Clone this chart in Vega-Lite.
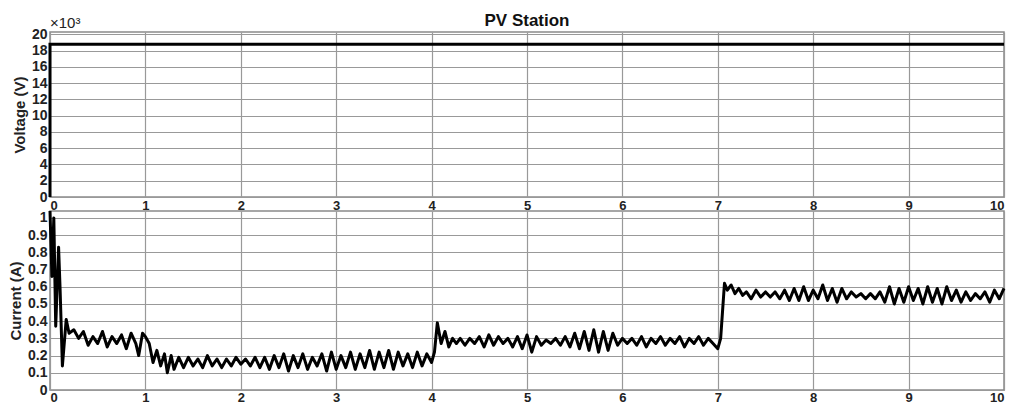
{
  "$schema": "https://vega.github.io/schema/vega-lite/v6.json",
  "background": "white",
  "padding": {"left": 7, "top": 11, "right": 4, "bottom": 0},
  "spacing": 14,
  "bounds": "flush",
  "config": {
    "font": "Liberation Sans",
    "view": {"stroke": "#8a8a8a", "strokeWidth": 1.5},
    "axis": {
      "labelFont": "Liberation Sans", "labelFontWeight": "bold", "labelFontSize": 14, "labelColor": "#222",
      "titleFont": "Liberation Sans", "titleFontSize": 15, "titleFontWeight": "bold", "titleColor": "#222",
      "gridColor": "#999", "gridOpacity": 1, "gridWidth": 1.2, "labelOverlap": false, "labelBound": false,
      "domain": false, "ticks": false, "labelPadding": 3, "titlePadding": 4
    }
  },
  "vconcat": [
    {
      "width": 954, "height": 165,
      "title": {"text": "PV Station", "fontSize": 17, "font": "Liberation Sans", "fontWeight": "bold", "color": "#111", "offset": -14, "anchor": "middle"},
      "layer": [
        {
          "data": {"values": [{"k": 1, "t": 0, "v": 0}, {"k": 2, "t": 0, "v": 18.8}, {"k": 3, "t": 10, "v": 18.8}]},
          "mark": {"type": "line", "color": "black", "strokeWidth": 3},
          "encoding": {
            "x": {"field": "t", "type": "quantitative", "scale": {"domain": [0, 10], "nice": false},
                  "axis": {"values": [0,1,2,3,4,5,6,7,8,9,10], "title": null, "format": "d", "labelPadding": 2, "labelFontSize": 13}},
            "y": {"field": "v", "type": "quantitative", "scale": {"domain": [0, 20.3], "nice": false},
                  "axis": {"values": [0,2,4,6,8,10,12,14,16,18,20], "title": "Voltage (V)", "format": "d"}},
            "order": {"field": "k"}
          }
        },
        {
          "data": {"values": [{}]},
          "mark": {"type": "text", "text": "×10³", "align": "left", "baseline": "bottom", "fontSize": 15, "font": "Liberation Sans", "color": "#222", "dy": -1},
          "encoding": {
            "x": {"datum": 0, "type": "quantitative",
                  "axis": {"values": [0,1,2,3,4,5,6,7,8,9,10], "title": null, "format": "d", "labelPadding": 2, "labelFontSize": 13}},
            "y": {"datum": 20.3, "type": "quantitative",
                  "axis": {"values": [0,2,4,6,8,10,12,14,16,18,20], "title": "Voltage (V)", "format": "d"}}
          }
        }
      ]
    },
    {
      "width": 954, "height": 179,
      "data": {"values": [
        {"t":0.0,"i":1.04},{"t":0.02,"i":0.66},{"t":0.04,"i":1.0},{"t":0.06,"i":0.37},{"t":0.09,"i":0.83},{"t":0.105,"i":0.6},{"t":0.13,"i":0.14},{"t":0.17,"i":0.41},
        {"t":0.2,"i":0.33},{"t":0.25,"i":0.35},{"t":0.3,"i":0.30},{"t":0.35,"i":0.34},{"t":0.4,"i":0.26},{"t":0.45,"i":0.31},{"t":0.5,"i":0.27},{"t":0.55,"i":0.34},{"t":0.6,"i":0.25},{"t":0.65,"i":0.31},{"t":0.7,"i":0.27},{"t":0.75,"i":0.32},{"t":0.8,"i":0.24},{"t":0.85,"i":0.33},{"t":0.9,"i":0.27},{"t":0.93,"i":0.20},{"t":0.97,"i":0.33},
        {"t":1.0,"i":0.31},{"t":1.04,"i":0.27},{"t":1.08,"i":0.16},{"t":1.12,"i":0.23},{"t":1.16,"i":0.14},{"t":1.2,"i":0.21},{"t":1.23,"i":0.10},{"t":1.27,"i":0.20},{"t":1.3,"i":0.12},{"t":1.35,"i":0.19},{"t":1.4,"i":0.13},{"t":1.45,"i":0.19},{"t":1.5,"i":0.14},{"t":1.55,"i":0.18},{"t":1.6,"i":0.13},{"t":1.65,"i":0.20},{"t":1.7,"i":0.14},{"t":1.75,"i":0.18},{"t":1.8,"i":0.13},{"t":1.85,"i":0.18},{"t":1.9,"i":0.14},{"t":1.95,"i":0.19},
        {"t":2.0,"i":0.15},{"t":2.05,"i":0.18},{"t":2.1,"i":0.14},{"t":2.15,"i":0.19},{"t":2.2,"i":0.13},{"t":2.25,"i":0.19},{"t":2.3,"i":0.12},{"t":2.35,"i":0.20},{"t":2.4,"i":0.13},{"t":2.45,"i":0.21},{"t":2.5,"i":0.11},{"t":2.55,"i":0.20},{"t":2.6,"i":0.13},{"t":2.65,"i":0.21},{"t":2.7,"i":0.12},{"t":2.75,"i":0.19},{"t":2.8,"i":0.14},{"t":2.85,"i":0.21},{"t":2.9,"i":0.11},{"t":2.95,"i":0.22},
        {"t":3.0,"i":0.12},{"t":3.05,"i":0.20},{"t":3.1,"i":0.13},{"t":3.15,"i":0.22},{"t":3.2,"i":0.12},{"t":3.25,"i":0.21},{"t":3.3,"i":0.13},{"t":3.35,"i":0.23},{"t":3.4,"i":0.12},{"t":3.45,"i":0.22},{"t":3.5,"i":0.13},{"t":3.55,"i":0.23},{"t":3.6,"i":0.12},{"t":3.65,"i":0.22},{"t":3.7,"i":0.14},{"t":3.75,"i":0.21},{"t":3.8,"i":0.13},{"t":3.85,"i":0.22},{"t":3.9,"i":0.14},{"t":3.95,"i":0.21},
        {"t":4.0,"i":0.16},{"t":4.03,"i":0.22},{"t":4.06,"i":0.39},{"t":4.1,"i":0.27},{"t":4.14,"i":0.34},{"t":4.18,"i":0.25},{"t":4.22,"i":0.30},{"t":4.26,"i":0.27},{"t":4.3,"i":0.30},{"t":4.35,"i":0.26},{"t":4.4,"i":0.30},{"t":4.45,"i":0.27},{"t":4.5,"i":0.31},{"t":4.55,"i":0.25},{"t":4.6,"i":0.32},{"t":4.65,"i":0.26},{"t":4.7,"i":0.31},{"t":4.75,"i":0.27},{"t":4.8,"i":0.30},{"t":4.85,"i":0.25},{"t":4.9,"i":0.31},{"t":4.95,"i":0.24},
        {"t":5.0,"i":0.32},{"t":5.05,"i":0.22},{"t":5.1,"i":0.31},{"t":5.15,"i":0.26},{"t":5.2,"i":0.29},{"t":5.25,"i":0.27},{"t":5.3,"i":0.30},{"t":5.35,"i":0.26},{"t":5.4,"i":0.31},{"t":5.45,"i":0.25},{"t":5.5,"i":0.33},{"t":5.55,"i":0.24},{"t":5.6,"i":0.34},{"t":5.65,"i":0.23},{"t":5.7,"i":0.35},{"t":5.75,"i":0.22},{"t":5.8,"i":0.34},{"t":5.85,"i":0.23},{"t":5.9,"i":0.33},{"t":5.95,"i":0.26},
        {"t":6.0,"i":0.30},{"t":6.05,"i":0.27},{"t":6.1,"i":0.30},{"t":6.15,"i":0.26},{"t":6.2,"i":0.31},{"t":6.25,"i":0.25},{"t":6.3,"i":0.30},{"t":6.35,"i":0.27},{"t":6.4,"i":0.31},{"t":6.45,"i":0.26},{"t":6.5,"i":0.30},{"t":6.55,"i":0.27},{"t":6.6,"i":0.31},{"t":6.65,"i":0.25},{"t":6.7,"i":0.30},{"t":6.75,"i":0.27},{"t":6.8,"i":0.31},{"t":6.85,"i":0.26},{"t":6.9,"i":0.30},{"t":6.95,"i":0.27},
        {"t":7.0,"i":0.24},{"t":7.03,"i":0.30},{"t":7.07,"i":0.62},{"t":7.1,"i":0.58},{"t":7.14,"i":0.61},{"t":7.18,"i":0.56},{"t":7.22,"i":0.59},{"t":7.26,"i":0.55},{"t":7.3,"i":0.57},{"t":7.35,"i":0.53},{"t":7.4,"i":0.58},{"t":7.45,"i":0.54},{"t":7.5,"i":0.57},{"t":7.55,"i":0.54},{"t":7.6,"i":0.57},{"t":7.65,"i":0.53},{"t":7.7,"i":0.58},{"t":7.75,"i":0.52},{"t":7.8,"i":0.59},{"t":7.85,"i":0.52},{"t":7.9,"i":0.60},{"t":7.95,"i":0.52},
        {"t":8.0,"i":0.58},{"t":8.05,"i":0.53},{"t":8.1,"i":0.61},{"t":8.15,"i":0.52},{"t":8.2,"i":0.59},{"t":8.25,"i":0.51},{"t":8.3,"i":0.59},{"t":8.35,"i":0.53},{"t":8.4,"i":0.57},{"t":8.45,"i":0.54},{"t":8.5,"i":0.56},{"t":8.55,"i":0.53},{"t":8.6,"i":0.56},{"t":8.65,"i":0.53},{"t":8.7,"i":0.57},{"t":8.75,"i":0.51},{"t":8.8,"i":0.60},{"t":8.85,"i":0.50},{"t":8.9,"i":0.59},{"t":8.95,"i":0.51},
        {"t":9.0,"i":0.60},{"t":9.05,"i":0.52},{"t":9.1,"i":0.59},{"t":9.15,"i":0.50},{"t":9.2,"i":0.60},{"t":9.25,"i":0.51},{"t":9.3,"i":0.59},{"t":9.35,"i":0.50},{"t":9.4,"i":0.60},{"t":9.45,"i":0.52},{"t":9.5,"i":0.58},{"t":9.55,"i":0.51},{"t":9.6,"i":0.57},{"t":9.65,"i":0.52},{"t":9.7,"i":0.56},{"t":9.75,"i":0.53},{"t":9.8,"i":0.57},{"t":9.85,"i":0.51},{"t":9.9,"i":0.58},{"t":9.95,"i":0.53},{"t":10.0,"i":0.59}
      ]},
      "mark": {"type": "line", "color": "black", "strokeWidth": 3, "strokeJoin": "round"},
      "encoding": {
        "x": {"field": "t", "type": "quantitative", "scale": {"domain": [0, 10], "nice": false},
              "axis": {"values": [0,1,2,3,4,5,6,7,8,9,10], "title": null, "format": "d", "labelPadding": 1, "labelFontSize": 13}},
        "y": {"field": "i", "type": "quantitative", "scale": {"domain": [0, 1.04], "nice": false},
              "axis": {"values": [0,0.1,0.2,0.3,0.4,0.5,0.6,0.7,0.8,0.9,1], "title": "Current (A)", "format": "~g"}}
      }
    }
  ]
}
